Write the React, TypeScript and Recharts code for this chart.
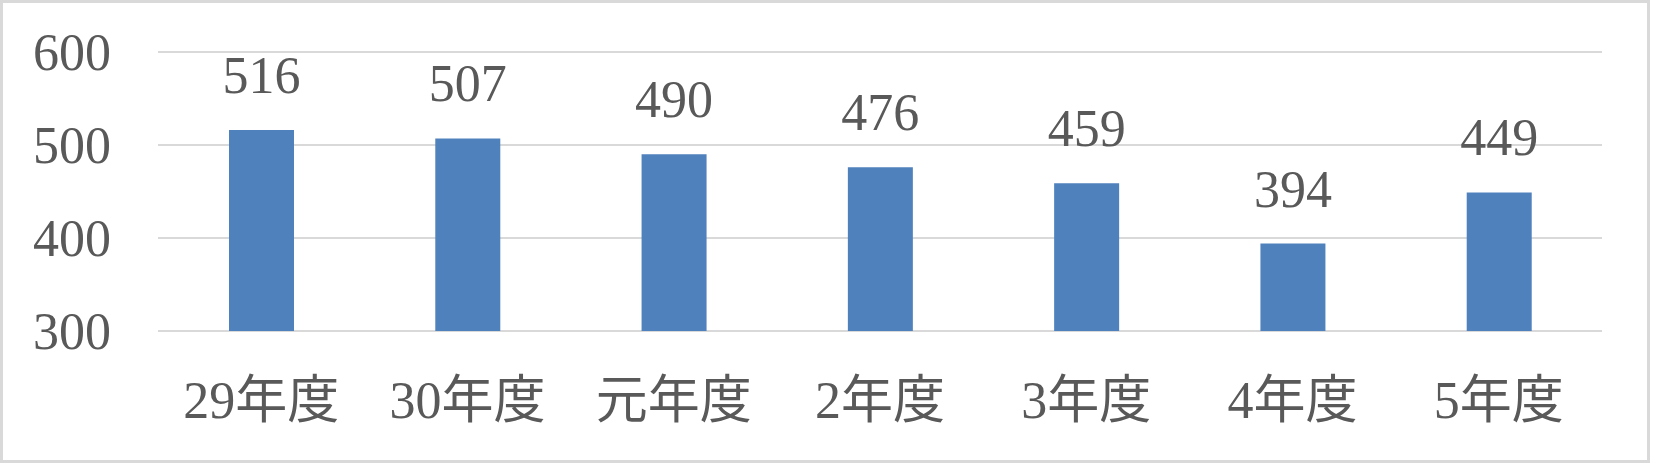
import React from 'react';
import { BarChart, Bar, XAxis, YAxis, CartesianGrid, LabelList } from 'recharts';

const categories = ['29年度', '30年度', '元年度', '2年度', '3年度', '4年度', '5年度'];
const counts = [516, 507, 490, 476, 459, 394, 449];
const yTicks = [300, 400, 500, 600];

const data = categories.map((name, i) => ({ name, value: counts[i] }));

const FONT = '"Liberation Serif", "Noto Sans CJK JP", serif';
const TEXT = '#595959';

export default function App() {
  return (
    <div style={{ position: 'absolute', left: 0, top: 0, width: 1653, height: 464, background: '#fff' }}>
      <BarChart
        width={1653}
        height={464}
        data={data}
        margin={{ top: 52, right: 51, bottom: 0, left: 0 }}
      >
        <CartesianGrid horizontal vertical={false} stroke="#d9d9d9" strokeWidth={2} />
        <XAxis
          dataKey="name"
          axisLine={false}
          tickLine={false}
          tickSize={0}
          tickMargin={50}
          height={133}
          interval={0}
          tick={{ fontSize: 52, fill: TEXT, fontFamily: FONT }}
        />
        <YAxis
          domain={[300, 600]}
          ticks={yTicks}
          axisLine={false}
          tickLine={false}
          tickSize={0}
          tickMargin={47}
          width={158}
          tick={{ fontSize: 52, fill: TEXT, fontFamily: FONT }}
        />
        <Bar dataKey="value" fill="#4f81bd" barSize={65} isAnimationActive={false}>
          <LabelList
            dataKey="value"
            position="top"
            offset={37}
            style={{ fontSize: 52, fill: TEXT, fontFamily: FONT }}
          />
        </Bar>
      </BarChart>
      <div
        style={{
          position: 'absolute',
          left: 0,
          top: 0,
          width: 1650,
          height: 463,
          boxSizing: 'border-box',
          border: '3px solid #d9d9d9',
          pointerEvents: 'none',
        }}
      />
    </div>
  );
}
